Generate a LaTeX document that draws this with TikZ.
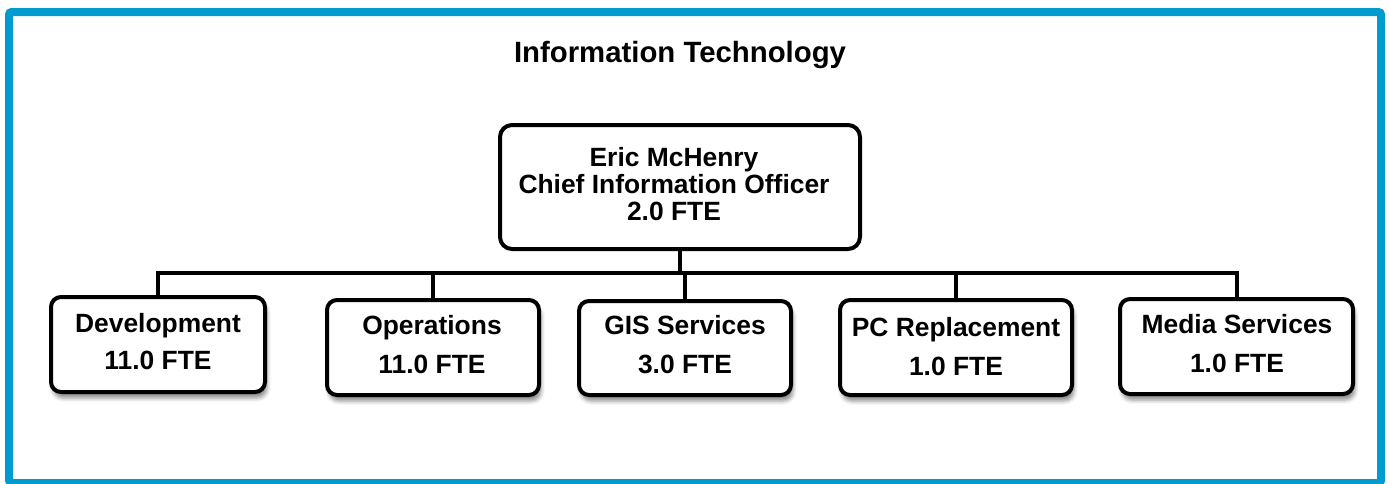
\documentclass[tikz,border=0pt]{standalone}
\usepackage{fontspec}
\setmainfont{Liberation Sans}
\usetikzlibrary{shadows.blur}
\definecolor{frameblue}{RGB}{0,155,207}
\begin{document}
\begin{tikzpicture}[x=0.75pt,y=-0.75pt,
  unitbox/.style={draw=black, line width=3pt, fill=white, rounded corners=7.5pt,
    inner sep=0pt},
  childbox/.style={unitbox, blur shadow={shadow xshift=1.5pt, shadow yshift=-4.5pt,
    shadow blur radius=3pt, shadow opacity=45}},
  lbl/.style={anchor=base, inner sep=0pt, font=\fontsize{19.8pt}{24pt}\selectfont\bfseries},
  titlelbl/.style={anchor=base, inner sep=0pt, font=\fontsize{22pt}{26pt}\selectfont\bfseries},
  wire/.style={draw=black, line width=3pt}]
\useasboundingbox (0,0) rectangle (1389,483);
% outer frame
\draw[frameblue, line width=6pt, rounded corners=2pt] (9,12) rectangle (1381,483);

\node[titlelbl] (title) at (680,62) {Information Technology};

% head of department
\node[unitbox, rounded corners=9pt, minimum width={360*0.75pt}, minimum height={124*0.75pt}] (cio) at (680,187) {};
\node[lbl] (cioA) at (674,166.5) {Eric McHenry};
\node[lbl] (cioB) at (674,193) {Chief Information Officer};
\node[lbl] (cioC) at (674,220) {2.0 FTE};

% divisions
\node[childbox, minimum width={214*0.75pt}, minimum height={95*0.75pt}] (dev) at (158,344.5) {};
\node[childbox, minimum width={212*0.75pt}, minimum height={95*0.75pt}] (ops) at (433,347.5) {};
\node[childbox, minimum width={212*0.75pt}, minimum height={94*0.75pt}] (gis) at (685,348) {};
\node[childbox, minimum width={232*0.75pt}, minimum height={95*0.75pt}] (pc) at (956,347.5) {};
\node[childbox, minimum width={233*0.75pt}, minimum height={95*0.75pt}] (media) at (1236.5,346.5) {};

\node[lbl] (devA) at (158,332) {Development};
\node[lbl] (devB) at (158,369.5) {11.0 FTE};
\node[lbl] (opsA) at (432,334) {Operations};
\node[lbl] (opsB) at (432,373) {11.0 FTE};
\node[lbl] (gisA) at (685,334) {GIS Services};
\node[lbl] (gisB) at (685,373) {3.0 FTE};
\node[lbl] (pcA) at (956,336) {PC Replacement};
\node[lbl] (pcB) at (956,375) {1.0 FTE};
\node[lbl] (mediaA) at (1237,333) {Media Services};
\node[lbl] (mediaB) at (1237,372) {1.0 FTE};

% connectors
\coordinate (bus) at (680,273);
\draw[wire] (cio.south) -- (cio.south |- bus);
\draw[wire] (dev.north) |- (bus) -| (media.north);
\draw[wire] (ops.north) -- (ops.north |- bus);
\draw[wire] (gis.north) -- (gis.north |- bus);
\draw[wire] (pc.north) -- (pc.north |- bus);
\end{tikzpicture}
\end{document}
